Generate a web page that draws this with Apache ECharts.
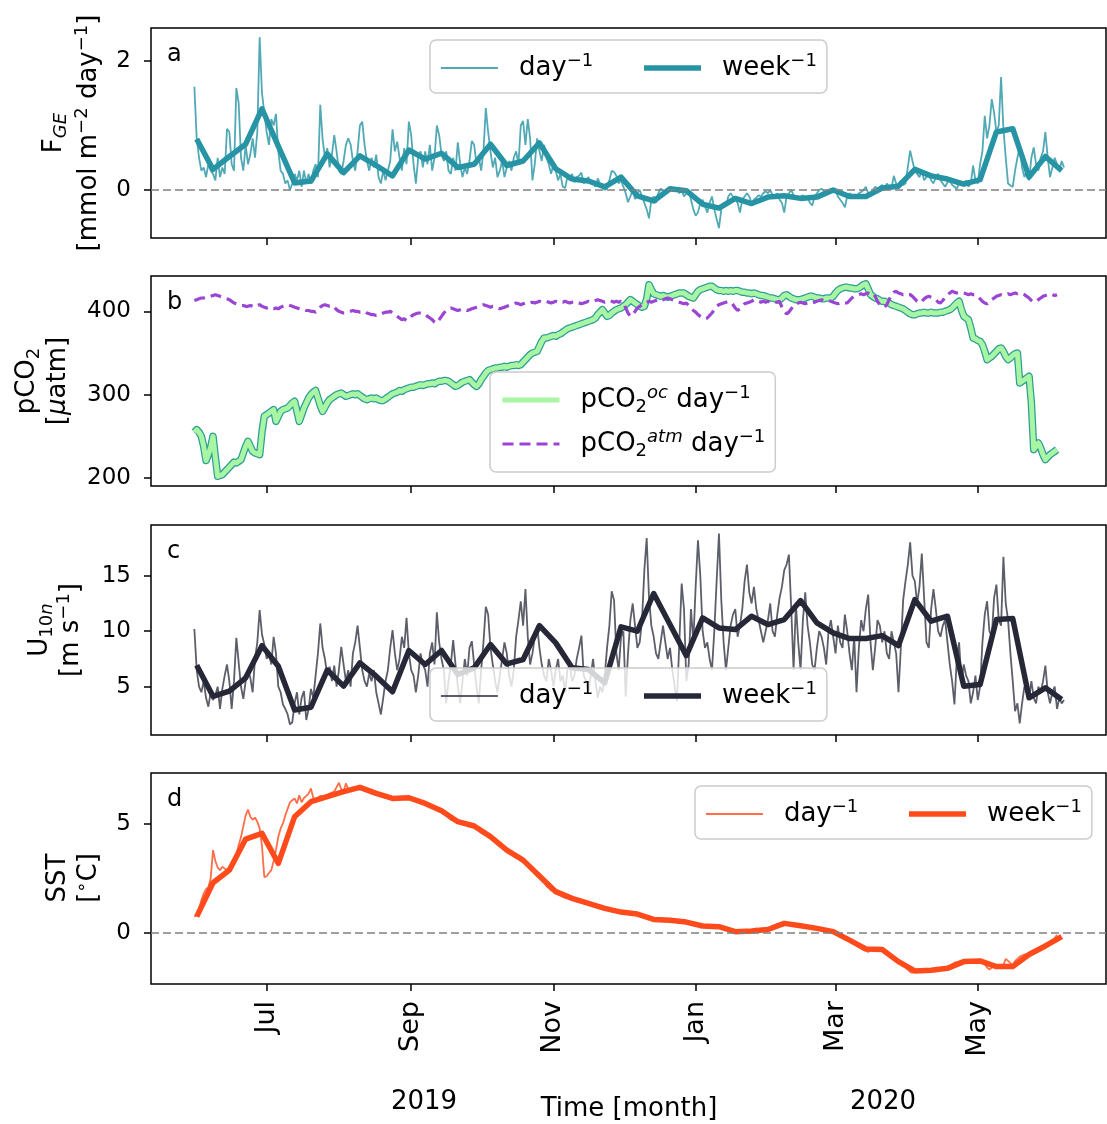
<!DOCTYPE html>
<html>
<head>
<meta charset="utf-8">
<script src="https://cdn.jsdelivr.net/npm/echarts@6/dist/echarts.min.js"></script>
<style>html,body{margin:0;padding:0;background:#fff}#c{width:1107px;height:1124px}</style>
</head>
<body>
<div id="c"></div>
<script>
// ---------------- DATA ----------------
const monthTicks = ['2019-07-01','2019-09-01','2019-11-01','2020-01-01','2020-03-01','2020-05-01'];
const monthLabels = ['Jul','Sep','Nov','Jan','Mar','May'];
const yearLabels = ['2019','2020'];
const dailyStart = '2019-05-31';
const weeklyStart = '2019-06-01';
const fgeTicks = [0, 2];
const pco2Ticks = [200, 300, 400];
const windTicks = [5, 10, 15];
const sstTicks = [0, 5];

const fgeDay = [
1.6,0.8,0.5,0.3,0.35,0.2,0.4, 0.3,0.25,0.15,0.5,0.2,0.35,0.25, 0.95,0.9,0.4,0.3,1.58,1.35,0.5,
0.3,0.7,0.4,0.55,0.8,0.5,0.9, 2.37,1.5,1.2,0.9,0.7,1.1,1.0, 1.18,0.6,0.3,0.25,0.1,0.15,0.0,
0.1,0.25,0.15,0.3,0.05,0.3,0.1, 0.25,0.1,0.3,0.4,0.2,1.32,0.79, 0.5,0.65,0.35,0.55,0.85,0.6,0.3,
0.25,0.45,0.7,0.8,0.71,0.45,0.3, 0.6,1.0,1.06,0.7,0.45,0.3,0.5, 0.35,0.55,0.2,0.1,0.3,0.15,0.3,
0.45,0.94,0.6,0.75,0.5,0.3,0.65, 0.4,1.06,0.85,0.4,0.1,0.5,0.6, 0.35,0.6,0.4,0.7,0.3,0.5,1.0,
0.85,0.55,0.45,0.6,0.3,0.25,0.5, 0.3,0.74,0.4,0.2,0.35,0.25,0.45, 0.76,0.7,0.4,0.5,0.3,0.6,1.27,
0.9,0.6,0.35,0.5,0.2,0.3,0.45, 0.2,0.35,0.45,0.3,0.5,0.6,0.4, 1.0,1.07,0.7,1.1,0.8,0.15,0.4,
0.8,0.6,0.45,0.7,0.5,0.4,0.25, 0.4,0.3,0.15,0.25,0.05,0.03,0.2, 0.15,0.25,0.12,0.2,0.22,0.27,0.1,
0.15,0.2,0.1,0.12,0.05,0.18,0.1, 0.05,0.0,0.02,0.15,0.3,0.28,0.22, 0.1,0.15,0.05,-0.05,-0.19,-0.1,0.0,
-0.14,-0.05,0.0,-0.1,-0.2,-0.3,-0.44, -0.15,-0.1,-0.2,-0.05,0.02,0.0,-0.05, 0.0,0.03,-0.02,0.0,0.02,-0.05,0.0,
-0.1,-0.05,0.0,-0.15,-0.3,-0.4,-0.35, -0.2,-0.15,-0.25,-0.35,-0.2,-0.1,-0.3, -0.45,-0.59,-0.3,-0.2,-0.25,-0.1,-0.05,
-0.1,-0.15,-0.2,-0.35,-0.15,-0.1,-0.05, -0.1,-0.2,-0.15,-0.12,-0.08,-0.1,-0.05, -0.02,-0.05,0.0,-0.08,-0.1,-0.05,-0.15,
-0.2,-0.35,-0.1,-0.05,0.0,-0.08,-0.1, -0.12,-0.1,-0.08,-0.15,-0.1,-0.2,-0.24, -0.1,-0.05,0.0,0.02,-0.02,-0.05,0.0,
0.02,-0.03,0.0,-0.1,-0.15,-0.2,-0.27, -0.1,-0.05,-0.08,-0.1,-0.12,-0.05,-0.03, 0.0,0.05,-0.05,-0.1,0.0,0.05,0.02,
0.05,0.08,0.0,0.1,0.05,0.03,0.22, 0.1,0.05,0.15,0.08,0.1,0.35,0.61, 0.45,0.3,0.25,0.2,0.3,0.15,0.2,
0.25,0.15,0.1,0.2,0.25,0.15,0.1, 0.05,0.12,0.15,0.08,0.05,0.02,0.1, 0.12,0.08,0.15,0.05,0.1,0.38,0.15,
0.1,0.4,0.6,1.15,0.8,1.0,1.41, 1.2,0.9,1.0,1.75,0.95,0.5,0.1, 0.07,0.05,0.3,0.5,0.66,0.35,0.2,
0.3,0.15,0.5,0.66,0.4,0.3,0.5, 0.6,0.9,0.5,0.2,0.35,0.5,0.4, 0.3,0.45,0.35
];
const fgeWeek = [
0.79,0.32,0.52,0.71,1.26,0.68,0.11,0.14,0.56,0.27,
0.53,0.38,0.22,0.62,0.48,0.57,0.35,0.40,0.71,0.38,
0.45,0.73,0.33,0.17,0.14,0.05,0.20,-0.09,-0.17,0.02,
-0.01,-0.22,-0.28,-0.13,-0.21,-0.11,-0.09,-0.13,-0.11,0.00,
-0.10,-0.10,0.03,0.06,0.32,0.22,0.17,0.09,0.16,0.90,
0.95,0.20,0.52,0.30
];
const pco2Ocean = [
255,258,255,250,238,221,228, 237,250,225,202,203,204,207, 210,213,216,219,218,220,222,
230,238,244,238,232,230,229, 228,255,274,276,278,280,282, 268,274,280,282,283,284,287,
290,292,280,268,276,284,290, 296,300,303,305,296,287,280, 285,290,294,296,298,300,301,
302,300,298,299,300,301,300, 301,299,297,295,294,295,296, 295,296,294,293,293,295,297,
299,301,302,303,305,304,306, 307,308,309,309,310,311,312, 311,312,313,313,314,313,315,
316,316,317,317,316,314,312, 310,311,313,315,316,317,318, 315,312,310,313,318,322,326,
329,330,331,332,332,333,333, 334,333,334,335,335,336,335, 336,339,342,345,348,350,351,
352,358,364,368,368,369,370, 371,370,372,373,375,377,379, 380,381,382,383,384,385,386,
387,388,389,390,392,396,399, 402,398,394,395,398,400,402, 403,404,406,408,411,414,412,
410,408,406,405,406,415,432, 426,421,420,419,418,419,418, 417,418,419,420,421,422,422,
422,420,418,417,416,420,424, 426,427,428,429,430,430,428, 426,425,425,424,425,424,425,
424,425,425,424,423,423,422, 422,421,422,421,420,419,419, 418,417,416,416,415,414,414,
416,419,420,418,416,415,414, 414,414,415,416,417,418,418, 417,416,416,415,415,416,416,
416,418,422,425,427,428,429, 429,428,428,427,427,428,430, 432,433,427,420,418,416,415,
413,412,412,411,410,408,407, 406,405,404,403,401,399,397, 396,396,397,398,398,399,398,
398,399,398,398,398,399,399, 400,401,402,404,407,410,412, 402,394,392,390,380,368,367,
365,364,360,352,342,344,346, 349,352,355,356,352,346,342, 344,347,349,350,314,316,318,
320,322,290,234,238,242,236, 228,222,225,228,230,232,234
];
const pco2Atm = [
413,414,415,416,416,417,417, 418,419,420,419,418,417,416, 415,414,412,410,409,408,407,
407,406,406,407,406,405,407, 408,406,405,404,405,404,403, 404,403,405,406,407,408,407,
406,405,404,403,402,402,401, 401,400,400,399,402,405,407, 408,407,406,407,405,402,400,
399,398,398,399,400,401,400, 400,399,399,400,398,397,396, 396,395,396,397,398,399,399,
400,398,396,394,392,390,391, 389,391,394,396,397,398,398, 398,396,394,392,390,387,386,
390,394,398,401,403,404,403, 402,401,402,403,402,401,402, 403,404,405,406,407,408,407,
406,405,406,405,404,403,404, 405,406,407,408,409,410,409, 408,409,410,409,410,411,410,
411,412,411,411,412,411,410, 411,412,411,412,411,412,411, 410,411,412,411,410,409,410,
411,412,411,412,413,414,413, 412,411,412,413,412,411,412, 411,412,410,404,398,394,396,
400,404,406,408,410,411,412, 411,412,413,414,415,414,415, 416,415,414,413,412,411,410,
409,410,407,404,401,399,396, 394,392,391,392,395,398,402, 406,408,409,410,411,412,411,
408,404,401,403,406,409,410, 411,412,414,413,412,411,412, 411,412,411,412,411,411,412,
405,400,397,399,403,407,409, 410,411,410,409,410,409,410, 411,412,413,414,413,414,413,
412,411,410,409,410,409,410, 410,413,416,418,419,420,421, 420,421,422,421,422,418,412,
408,406,405,408,414,420,423, 424,422,421,420,421,420,420, 418,415,412,410,412,415,417,
418,417,416,414,411,410,413, 417,420,422,424,423,422,422, 421,422,421,420,421,420,420,
418,415,412,410,409,411,414, 416,418,419,420,419,420,421, 420,421,422,421,422,421,420,
418,416,413,411,412,414,416, 418,419,420,419,420,419,420
];
const windDay = [
10.2,6.5,5.0,4.5,5.5,4.0,3.2, 4.5,3.8,4.2,5.0,3.0,4.8,6.0, 7.0,5.5,3.0,5.5,9.4,7.2,5.0,
3.9,5.5,6.5,5.8,4.5,7.5,9.0, 11.9,9.7,8.8,7.5,8.0,7.0,9.5, 8.0,5.0,4.5,3.4,3.0,2.5,1.6,
1.8,3.5,4.5,2.5,4.0,4.6,2.0, 3.0,4.8,4.0,6.0,8.0,10.7,8.5, 7.5,6.0,6.8,5.5,6.9,5.0,6.5,
8.6,7.0,5.5,6.5,5.0,8.0,9.0, 10.5,8.5,6.5,5.5,5.0,6.2,5.5, 6.5,4.5,3.5,2.5,4.0,5.5,6.5,
8.5,10.1,8.0,6.5,7.5,9.5,8.5, 11.2,8.0,6.5,6.0,4.5,6.0,8.0, 7.0,6.5,5.0,8.0,9.0,7.0,11.7,
9.0,7.5,6.5,3.5,5.5,7.0,9.2, 7.0,5.0,3.5,5.5,7.5,6.0,8.5, 9.1,7.0,5.0,3.5,6.5,9.0,12.2,
11.5,8.5,7.0,5.5,4.5,6.0,7.5, 9.0,8.0,6.0,5.0,6.5,9.5,11.0, 12.7,10.5,13.8,9.5,7.0,8.0,9.5,
10.5,8.5,7.0,6.0,5.5,7.5,6.5, 5.0,6.5,7.5,5.5,6.0,4.5,6.5, 7.0,5.5,6.0,7.5,8.5,9.6,6.0,
5.5,4.5,6.0,7.5,5.5,4.0,5.0, 4.5,6.0,8.5,10.5,13.6,12.8,8.0, 6.5,9.5,10.0,4.1,8.0,11.0,12.5,
10.5,8.5,9.0,11.0,15.5,18.4,13.0, 10.5,9.5,8.0,7.5,9.0,10.5,9.0, 7.5,8.5,6.5,5.0,3.7,9.0,14.3,
12.0,5.5,7.0,12.0,9.0,14.0,18.2, 15.0,10.0,8.5,9.0,7.5,6.5,10.0, 14.5,18.8,12.8,9.0,6.5,8.5,10.5,
11.5,12.0,9.5,10.5,12.0,14.5,16.0, 13.5,12.5,14.0,12.0,11.0,10.0,9.0, 10.0,11.0,12.5,10.0,9.5,11.5,13.0,
14.0,15.5,16.0,16.9,12.0,6.5,12.5, 9.0,6.5,11.0,13.5,10.5,9.0,7.0, 6.5,8.5,10.0,9.5,8.5,7.0,10.0,
11.0,9.5,8.0,10.5,9.0,8.5,11.5, 10.0,8.0,6.5,9.5,4.5,8.5,11.0, 10.0,12.0,13.3,9.0,6.5,8.5,11.0,
10.5,9.0,10.0,8.0,7.5,10.0,9.0, 8.0,4.5,8.5,12.8,14.5,16.0,18.0, 15.0,14.5,12.5,14.0,17.0,13.0,9.0,
8.5,12.0,13.8,12.0,10.0,9.5,10.5, 11.0,9.0,7.0,5.5,3.4,7.5,9.0, 5.5,7.0,6.0,5.5,3.5,4.5,6.0,
3.8,5.0,9.0,11.5,12.7,10.0,9.5, 13.0,14.2,11.0,10.5,16.7,12.5,11.0, 8.0,5.5,2.8,3.5,1.7,3.5,5.0,
4.5,4.0,5.5,4.0,3.5,5.0,4.5, 5.5,6.9,4.5,3.5,4.5,5.0,3.0, 4.0,3.5,3.8
];
const windWeek = [
6.94,4.14,4.6,5.8,8.7,6.85,2.9,3.15,6.5,5.05,
7.15,5.95,4.55,8.26,7.0,8.26,6.1,6.7,8.8,7.05,
7.45,10.5,8.95,6.7,6.55,5.35,10.4,10.0,13.4,10.6,
7.8,11.2,10.3,10.15,11.35,10.6,11.05,12.76,10.75,9.85,
9.34,9.34,9.6,8.7,12.85,10.9,11.35,5.05,5.2,11.05,
11.15,4.0,4.9,3.85
];
const sstDay = [
0.74,0.8,1.1,1.5,1.8,2.0,2.1, 2.5,3.8,3.3,3.0,2.88,3.04,2.95, 2.9,3.0,3.1,3.3,3.6,4.03,4.4,
4.9,5.4,5.67,5.34,5.2,5.3,5.1, 4.8,4.0,2.55,2.6,2.75,2.88,3.3, 3.8,4.42,4.8,5.03,5.4,5.7,6.0,
6.1,6.18,5.95,6.33,6.0,6.2,6.3, 6.4,6.64,6.2,6.1,6.2,6.3,6.25, 6.3,6.35,6.4,6.45,6.5,6.7,6.9,
6.6,6.5,6.87,6.6,6.55,6.6,6.65, 6.65,6.7,6.68,6.6,6.55,6.5,6.45, 6.42,6.4,6.35,6.3,6.28,6.25,6.2,
6.18,6.17,6.18,6.2,6.22,6.2,6.21, 6.22,6.21,6.2,6.15,6.1,6.05,6.0, 5.97,5.93,5.88,5.82,5.75,5.7,5.65,
5.63,5.6,5.5,5.4,5.3,5.2,5.15, 5.12,5.1,5.05,5.0,4.98,4.95,4.92, 4.9,4.88,4.8,4.7,4.6,4.55,4.5,
4.45,4.4,4.3,4.2,4.1,4.0,3.9, 3.85,3.8,3.7,3.6,3.55,3.45,3.4, 3.36,3.3,3.2,3.1,3.0,2.9,2.75,
2.65,2.6,2.5,2.35,2.15,2.05,1.95, 1.92,1.88,1.8,1.72,1.65,1.62,1.6, 1.59,1.57,1.53,1.5,1.45,1.42,1.38,
1.36,1.34,1.3,1.26,1.22,1.2,1.16, 1.13,1.12,1.08,1.05,1.02,1.0,0.98, 0.96,0.95,0.93,0.9,0.89,0.88,0.87,
0.86,0.86,0.8,0.72,0.7,0.66,0.63, 0.62,0.61,0.6,0.6,0.59,0.58,0.58, 0.57,0.57,0.55,0.53,0.52,0.5,0.5,
0.49,0.49,0.47,0.45,0.4,0.36,0.33, 0.31,0.31,0.3,0.3,0.29,0.29,0.28, 0.28,0.28,0.27,0.25,0.2,0.15,0.1,
0.07,0.05,0.05,0.06,0.06,0.07,0.08, 0.08,0.08,0.1,0.2,0.15,0.12,0.14, 0.14,0.15,0.2,0.28,0.35,0.4,0.42,
0.43,0.43,0.42,0.4,0.38,0.36,0.34, 0.33,0.32,0.3,0.28,0.27,0.25,0.23, 0.21,0.2,0.18,0.16,0.14,0.12,0.09,
0.07,0.05,0.0,-0.08,-0.15,-0.22,-0.28, -0.32,-0.34,-0.4,-0.5,-0.58,-0.65,-0.7, -0.78,-0.75,-0.9,-0.76,-0.74,-0.76,-0.77,
-0.77,-0.77,-0.85,-0.95,-1.05,-1.15,-1.25, -1.3,-1.33,-1.4,-1.5,-1.6,-1.7,-1.8, -1.85,-1.76,-1.75,-1.74,-1.74,-1.73,-1.73,
-1.73,-1.73,-1.72,-1.7,-1.68,-1.66,-1.65, -1.64,-1.64,-1.55,-1.45,-1.38,-1.35,-1.33, -1.33,-1.33,-1.32,-1.31,-1.3,-1.3,-1.3,
-1.3,-1.3,-1.35,-1.45,-1.6,-1.7,-1.6, -1.58,-1.56,-1.56,-1.55,-1.5,-1.2,-1.3, -1.4,-1.5,-1.3,-1.2,-1.1,-1.05,-1.0,
-1.0,-0.98,-0.9,-0.85,-0.8,-0.72,-0.65, -0.62,-0.6,-0.55,-0.45,-0.35,-0.25,-0.1
];
const sstWeek = [
0.74,2.3,2.88,4.31,4.57,3.19,5.34,6.03,6.26,6.49,
6.69,6.41,6.18,6.21,5.95,5.61,5.11,4.91,4.42,3.8,
3.34,2.61,1.89,1.58,1.35,1.12,0.95,0.86,0.61,0.57,
0.49,0.31,0.28,0.05,0.08,0.15,0.43,0.32,0.2,0.05,
-0.34,-0.75,-0.77,-1.33,-1.76,-1.73,-1.64,-1.33,-1.3,-1.56,
-1.56,-1.0,-0.61,-0.18
];

// ---------------- BUILD ----------------
// x is expressed in days since dailyStart (value axis)
const DAY = 86400000;
const utc = s => new Date(s + 'T00:00:00Z').getTime();
const d0 = utc(dailyStart);
const dayOf = s => (utc(s) - d0) / DAY;
const w0 = dayOf(weeklyStart);
const daily = arr => arr.map((v, i) => [i, v]);
const weekly = arr => arr.map((v, k) => [w0 + k * 7, v]);
const tickDays = monthTicks.map(dayOf);
const xMin = dayOf('2019-07-01') - 49.6;
const xMax = dayOf('2020-05-01') + 55.0;

const FONT = 'DejaVu Sans';
const grids = [
  {left: 151, width: 955, top: 28, height: 210},
  {left: 151, width: 955, top: 276, height: 210},
  {left: 151, width: 955, top: 525, height: 210},
  {left: 151, width: 955, top: 773, height: 211}
].map(g => Object.assign({show: true, borderColor: '#000', borderWidth: 1.5, backgroundColor: 'transparent', containLabel: false}, g));

const yRanges = [[-0.744, 2.512, fgeTicks], [190.4, 442.4, pco2Ticks], [0.65, 19.57, windTicks], [-2.36, 7.35, sstTicks]];

const xAxes = [0,1,2,3].map(i => ({
  type: 'value', gridIndex: i, min: xMin, max: xMax,
  axisLine: {show: false, onZero: false},
  splitLine: {show: false},
  axisTick: {show: true, customValues: tickDays, length: 7, lineStyle: {color: '#000', width: 1.5}},
  axisLabel: {show: i === 3, customValues: tickDays, rotate: 90, margin: 17,
    fontFamily: FONT, fontSize: 27, color: '#000',
    formatter: v => { let k = -1; tickDays.forEach((t, j) => { if (Math.abs(t - v) < 0.01) k = j; }); return k >= 0 ? monthLabels[k] : ''; }}
}));
const yAxes = yRanges.map((r, i) => ({
  type: 'value', gridIndex: i, min: r[0], max: r[1],
  axisLine: {show: false, onZero: false},
  splitLine: {show: false},
  axisTick: {show: true, customValues: r[2], length: 7, lineStyle: {color: '#000', width: 1.5}},
  axisLabel: {customValues: r[2], margin: 20, fontFamily: FONT, fontSize: 23, color: '#000'}
}));

const zeroLine = {
  silent: true, symbol: ['none', 'none'], label: {show: false}, animation: false,
  lineStyle: {color: '#808080', type: [8, 4], width: 1.5},
  data: [{yAxis: 0}]
};
const base = {type: 'line', symbol: 'none', animation: false, silent: true};
const C_TEAL = '#2694a4', C_GREEN = '#a8f5a3', C_EDGE = '#2f9e94', C_PURPLE = '#9a45d3', C_NAVY = '#262838', C_ORANGE = '#ff4a1c';
const W_DAY = 1.8, W_WEEK = 5.5;

const series = [
  Object.assign({}, base, {name: 'a_day', xAxisIndex: 0, yAxisIndex: 0, data: daily(fgeDay),
    lineStyle: {color: C_TEAL, width: W_DAY, opacity: 0.8}, itemStyle: {color: C_TEAL}, markLine: zeroLine, z: 2}),
  Object.assign({}, base, {name: 'a_week', xAxisIndex: 0, yAxisIndex: 0, data: weekly(fgeWeek),
    lineStyle: {color: C_TEAL, width: W_WEEK, join: 'round'}, itemStyle: {color: C_TEAL}, z: 3}),
  Object.assign({}, base, {name: 'b_edge', xAxisIndex: 1, yAxisIndex: 1, data: daily(pco2Ocean),
    lineStyle: {color: C_EDGE, width: 7.5, join: 'round'}, itemStyle: {color: C_EDGE}, z: 2}),
  Object.assign({}, base, {name: 'b_oc', xAxisIndex: 1, yAxisIndex: 1, data: daily(pco2Ocean),
    lineStyle: {color: C_GREEN, width: 5, join: 'round'}, itemStyle: {color: C_GREEN}, z: 3}),
  Object.assign({}, base, {name: 'b_atm', xAxisIndex: 1, yAxisIndex: 1, data: daily(pco2Atm),
    lineStyle: {color: C_PURPLE, width: 3.2, type: [11, 6]}, itemStyle: {color: C_PURPLE}, z: 4}),
  Object.assign({}, base, {name: 'c_day', xAxisIndex: 2, yAxisIndex: 2, data: daily(windDay),
    lineStyle: {color: C_NAVY, width: W_DAY, opacity: 0.75}, itemStyle: {color: C_NAVY}, z: 2}),
  Object.assign({}, base, {name: 'c_week', xAxisIndex: 2, yAxisIndex: 2, data: weekly(windWeek),
    lineStyle: {color: C_NAVY, width: W_WEEK, join: 'round'}, itemStyle: {color: C_NAVY}, z: 3}),
  Object.assign({}, base, {name: 'd_day', xAxisIndex: 3, yAxisIndex: 3, data: daily(sstDay),
    lineStyle: {color: C_ORANGE, width: W_DAY, opacity: 0.8}, itemStyle: {color: C_ORANGE}, markLine: zeroLine, z: 2}),
  Object.assign({}, base, {name: 'd_week', xAxisIndex: 3, yAxisIndex: 3, data: weekly(sstWeek),
    lineStyle: {color: C_ORANGE, width: W_WEEK, join: 'round'}, itemStyle: {color: C_ORANGE}, z: 3})
];

const legendText = {
  a_day: '{t|day}{sup|−1}', a_week: '{t|week}{sup|−1}',
  b_oc: '{t|pCO}{sub|2}{supi|oc}{t| day}{sup|−1}', b_atm: '{t|pCO}{sub|2}{supi|atm}{t| day}{sup|−1}',
  c_day: '{t|day}{sup|−1}', c_week: '{t|week}{sup|−1}',
  d_day: '{t|day}{sup|−1}', d_week: '{t|week}{sup|−1}'
};
const legendWidth = {a_day: W_DAY, a_week: W_WEEK, b_oc: 5, b_atm: 3.2, c_day: W_DAY, c_week: W_WEEK, d_day: W_DAY, d_week: W_WEEK};
const legRich = {
  t: {fontFamily: FONT, fontSize: 26, color: '#000', lineHeight: 32},
  sup: {fontFamily: FONT, fontSize: 18, color: '#000', lineHeight: 20, verticalAlign: 'top'},
  supi: {fontFamily: FONT, fontSize: 18, color: '#000', fontStyle: 'italic', lineHeight: 20, verticalAlign: 'top'},
  sub: {fontFamily: FONT, fontSize: 18, color: '#000', lineHeight: 14, verticalAlign: 'bottom'}
};
function mkLegend(names, left, top, orient, gap) {
  return {
    data: names.map(n => ({name: n, lineStyle: {width: legendWidth[n]}})),
    left: left, top: top, orient: orient, itemWidth: 57, itemHeight: 14, itemGap: gap,
    padding: [12, 10, 12, 10], backgroundColor: 'rgba(255,255,255,0.8)', borderColor: '#cccccc',
    borderWidth: 1.5, borderRadius: 6, selectedMode: false,
    itemStyle: {opacity: 0, borderWidth: 0},
    formatter: n => legendText[n],
    textStyle: {fontFamily: FONT, fontSize: 26, color: '#000', padding: [0, 0, 0, 16], rich: legRich}
  };
}
const legends = [
  mkLegend(['a_day', 'a_week'], 430, 40, 'horizontal', 48),
  mkLegend(['b_oc', 'b_atm'], 490, 372, 'vertical', 12),
  mkLegend(['c_day', 'c_week'], 430, 668, 'horizontal', 48),
  mkLegend(['d_day', 'd_week'], 695, 786, 'horizontal', 48)
];

// axis titles & annotations
const tRich = {
  t: {fontFamily: FONT, fontSize: 26, fill: '#000', lineHeight: 32},
  ti: {fontFamily: FONT, fontSize: 26, fill: '#000', fontStyle: 'italic', lineHeight: 32},
  sup: {fontFamily: FONT, fontSize: 18, fill: '#000', lineHeight: 18, verticalAlign: 'top'},
  sub: {fontFamily: FONT, fontSize: 18, fill: '#000', lineHeight: 14, verticalAlign: 'bottom'},
  subi: {fontFamily: FONT, fontSize: 18, fill: '#000', fontStyle: 'italic', lineHeight: 14, verticalAlign: 'bottom'}
};
function rotText(txt, x, y) {
  return {type: 'text', x: x, y: y, rotation: Math.PI / 2, silent: true,
    style: {text: txt, rich: tRich, textAlign: 'center', textVerticalAlign: 'middle', fill: '#000',
      font: '26px "DejaVu Sans"'}};
}
function plainText(txt, x, y, size, align) {
  return {type: 'text', x: x, y: y, silent: true,
    style: {text: txt, textAlign: align || 'center', textVerticalAlign: 'middle', fill: '#000',
      font: size + 'px "DejaVu Sans"'}};
}
const graphics = [
  rotText('{t|F}{subi|GE}', 54, 133),
  rotText('{t|[mmol m}{sup|−2}{t| day}{sup|−1}{t|]}', 89, 133),
  rotText('{t|pCO}{sub|2}', 27, 381),
  rotText('{t|[}{ti|μ}{t|atm]}', 58, 381),
  rotText('{t|U}{sub|10}{subi|n}', 40, 630),
  rotText('{t|[m s}{sup|−1}{t|]}', 71, 630),
  rotText('{t|SST}', 58, 878),
  rotText('{t|[}{sup|∘}{t|C]}', 89, 878),
  plainText('a', 167, 28 + 27, 24, 'left'),
  plainText('b', 167, 276 + 27, 24, 'left'),
  plainText('c', 167, 525 + 27, 24, 'left'),
  plainText('d', 167, 773 + 27, 24, 'left'),
  plainText(yearLabels[0], 424, 1102, 26),
  plainText(yearLabels[1], 883, 1102, 26),
  plainText('Time [month]', 629, 1109, 26)
];

const chart = echarts.init(document.getElementById('c'), null, {renderer: 'canvas'});
chart.setOption({
  animation: false,
  backgroundColor: '#fff',
  grid: grids, xAxis: xAxes, yAxis: yAxes,
  legend: legends, series: series, graphic: graphics
});
</script>
</body>
</html>
